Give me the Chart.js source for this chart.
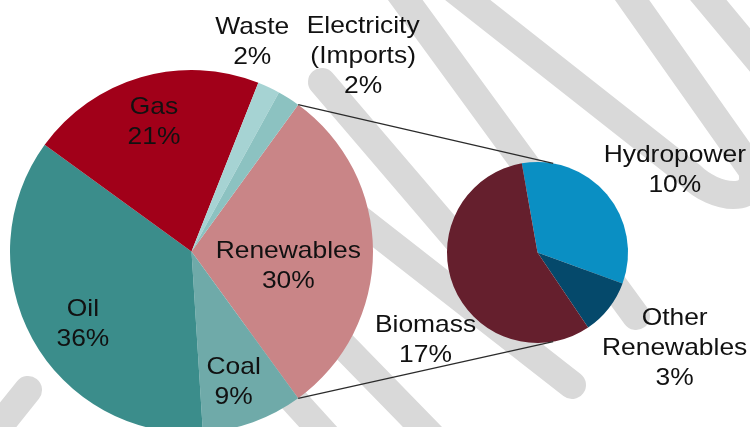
<!DOCTYPE html>
<html>
<head>
<meta charset="utf-8">
<script src="https://cdn.jsdelivr.net/npm/chart.js@4.4.0/dist/chart.umd.min.js"></script>
<style>
  html, body { margin: 0; padding: 0; background: #fff; overflow: hidden; }
  #wrap { position: relative; width: 750px; height: 460px; }
  #wrap canvas { position: absolute; left: 0; top: 0; }
</style>
</head>
<body>
<div id="wrap">
  <canvas id="main-chart" width="750" height="460"></canvas>
  <canvas id="sub-chart" width="750" height="460"></canvas>
</div>
<script>
// main pie
const mainLabels = ['Renewables', 'Coal', 'Oil', 'Gas', 'Waste', 'Electricity\n(Imports)'];
const mainValues = [30, 9, 36, 21, 2, 2];
const mainColors = ['#C98587', '#6FAAA9', '#3B8D8B', '#A10019', '#A6D3D3', '#8CC2C1'];

// breakdown of renewables
const subLabels = ['Hydropower', 'Other\nRenewables', 'Biomass'];
const subValues = [10, 3, 17];
const subColors = ['#0A8FC3', '#05496B', '#651F2D'];

// label placement: [radius factor, angle shift in degrees]
const mainLabelPos = [[0.54, 9], [0.76, 2], [0.72, -5], [0.74, 0], [1.2, -9], [1.43, 9]];
const subLabelPos = [[1.77, 9], [1.85, -3], [1.57, -16]];

// grey watermark swooshes in the background
const swooshes = [
  [['M', 455, -10], ['L', 690, 175], ['C', 715, 200, 760, 205, 752, 170], ['L', 625, -10]],
  [['M', 700, -10], ['L', 775, 80]],
  [['M', 398, -10], ['L', 636, 316]],
  [['M', 322, 82], ['L', 470, 255]],
  [['M', 330, 196], ['L', 572, 385]],
  [['M', 250, 250], ['L', 440, 445]],
  [['M', 230, 330], ['L', 330, 440]],
  [['M', -20, 450], ['L', 28, 390]]
];

const textFont = '24px "Liberation Sans", Arial, sans-serif';
const lineGap = 30;

function drawSwooshes(ctx) {
  ctx.save();
  ctx.strokeStyle = '#D9D9D9';
  ctx.lineWidth = 28;
  ctx.lineCap = 'round';
  ctx.lineJoin = 'round';
  swooshes.forEach(path => {
    ctx.beginPath();
    path.forEach(p => {
      if (p[0] === 'M') ctx.moveTo(p[1], p[2]);
      else if (p[0] === 'L') ctx.lineTo(p[1], p[2]);
      else ctx.bezierCurveTo(p[1], p[2], p[3], p[4], p[5], p[6]);
    });
    ctx.stroke();
  });
  ctx.restore();
}

function drawLabels(chart, labels, values, total, pos) {
  const ctx = chart.ctx;
  const arcs = chart.getDatasetMeta(0).data;
  ctx.save();
  ctx.font = textFont;
  ctx.fillStyle = '#111';
  ctx.textAlign = 'center';
  ctx.textBaseline = 'middle';
  arcs.forEach((arc, i) => {
    const mid = (arc.startAngle + arc.endAngle) / 2 + pos[i][1] * Math.PI / 180;
    const r = arc.outerRadius * pos[i][0];
    const x = arc.x + Math.cos(mid) * r;
    const y = arc.y + Math.sin(mid) * r;
    const lines = labels[i].split('\n');
    lines.push(Math.round(values[i] * 100 / total) + '%');
    const top = y - (lines.length - 1) * lineGap / 2;
    lines.forEach((line, j) => {
      ctx.save();
      ctx.translate(x, top + j * lineGap);
      ctx.scale(1.1, 1);
      ctx.fillText(line, 0, 0);
      ctx.restore();
    });
  });
  ctx.restore();
}

const mainChart = new Chart(document.getElementById('main-chart'), {
  type: 'pie',
  data: {
    labels: mainLabels,
    datasets: [{ data: mainValues, backgroundColor: mainColors, borderWidth: 0, hoverOffset: 0 }]
  },
  options: {
    responsive: false,
    animation: false,
    events: [],
    rotation: 36,
    layout: { padding: { left: 10, top: 70, right: 377, bottom: 27 } },
    plugins: { legend: { display: false }, tooltip: { enabled: false } }
  },
  plugins: [{
    id: 'backdrop',
    beforeDatasetsDraw(chart) { drawSwooshes(chart.ctx); },
    afterDatasetsDraw(chart) { drawLabels(chart, mainLabels, mainValues, 100, mainLabelPos); }
  }]
});

// total of the main pie, the sub pie shows shares of it
const mainTotal = mainValues.reduce((s, v) => s + v, 0);

new Chart(document.getElementById('sub-chart'), {
  type: 'pie',
  data: {
    labels: subLabels,
    datasets: [{ data: subValues, backgroundColor: subColors, borderWidth: 0, hoverOffset: 0 }]
  },
  options: {
    responsive: false,
    animation: false,
    events: [],
    rotation: -10,
    layout: { padding: { left: 447, top: 162, right: 122, bottom: 117 } },
    plugins: { legend: { display: false }, tooltip: { enabled: false } }
  },
  plugins: [{
    id: 'connectors',
    afterDatasetsDraw(chart) {
      const ctx = chart.ctx;
      const big = mainChart.getDatasetMeta(0).data[0];
      const small = chart.getDatasetMeta(0).data[0];
      const a1 = big.startAngle, a2 = big.endAngle;
      const b1 = -80 * Math.PI / 180, b2 = 80 * Math.PI / 180;
      ctx.save();
      ctx.strokeStyle = '#2b2b2b';
      ctx.lineWidth = 1.2;
      ctx.beginPath();
      ctx.moveTo(big.x + Math.cos(a1) * big.outerRadius, big.y + Math.sin(a1) * big.outerRadius);
      ctx.lineTo(small.x + Math.cos(b1) * small.outerRadius, small.y + Math.sin(b1) * small.outerRadius);
      ctx.moveTo(big.x + Math.cos(a2) * big.outerRadius, big.y + Math.sin(a2) * big.outerRadius);
      ctx.lineTo(small.x + Math.cos(b2) * small.outerRadius, small.y + Math.sin(b2) * small.outerRadius);
      ctx.stroke();
      ctx.restore();
      drawLabels(chart, subLabels, subValues, mainTotal, subLabelPos);
    }
  }]
});
</script>
</body>
</html>
